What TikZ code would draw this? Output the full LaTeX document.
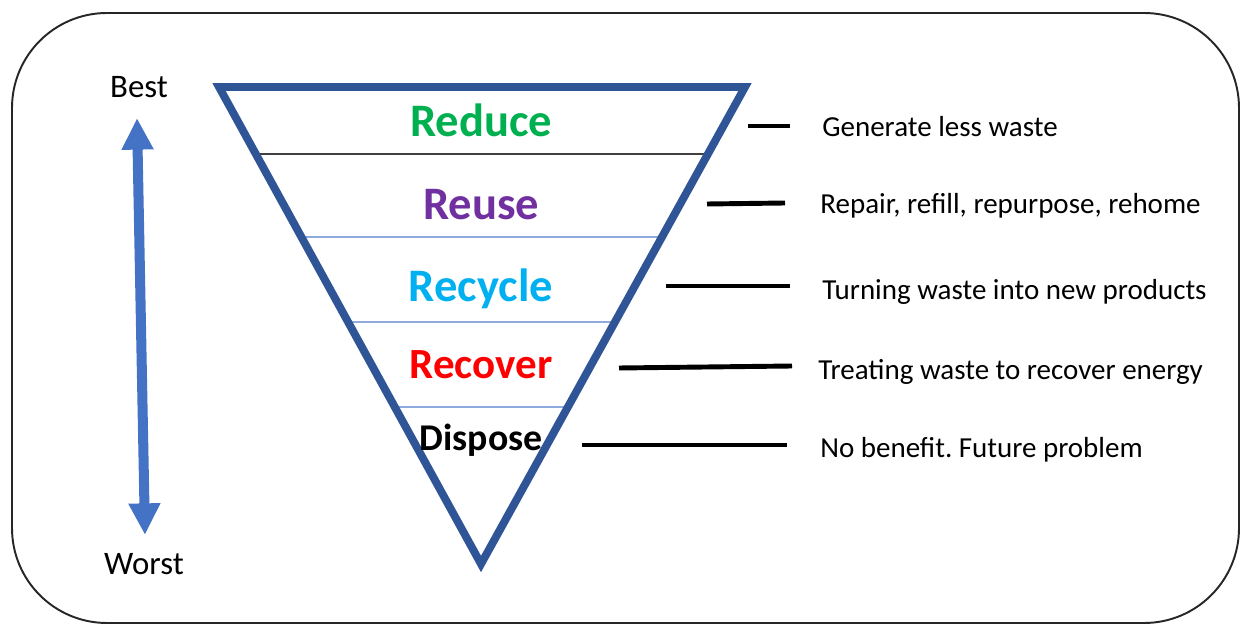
\documentclass[tikz,border=0pt]{standalone}
\usepackage{fontspec}
\setmainfont{Carlito}
\usetikzlibrary{arrows.meta, calc}
\frenchspacing

\definecolor{hierblue}{HTML}{2F5597}
\definecolor{arrowblue}{HTML}{4472C4}
\definecolor{lineblue}{HTML}{8FAADC}
\definecolor{reducegreen}{HTML}{00B050}
\definecolor{reusepurple}{HTML}{7030A0}
\definecolor{recyclecyan}{HTML}{00B0F0}
\definecolor{recoverred}{HTML}{FF0000}

\begin{document}
\begin{tikzpicture}[x=0.02cm, y=-0.02cm,
        level/.style={anchor=base, inner sep=0pt, font=\bfseries\fontsize{26.5}{30}\selectfont},
        desc/.style={anchor=base west, inner sep=0pt, font=\fontsize{16.5}{19}\selectfont},
        rank/.style={anchor=base, inner sep=0pt, font=\fontsize{18.7}{22}\selectfont},
        tick/.style={line width=2.8pt},
        divider/.style={line width=0.8pt, draw=lineblue}
    ]
        \useasboundingbox (0,0) rectangle (1241,624);

        % Frame
        \draw[line width=1.1pt, black!85, rounded corners=1.9cm] (12,13) rectangle (1239,623);

        % Triangle corners
        \coordinate (tl) at (219,87);
        \coordinate (tr) at (745,87);
        \coordinate (apex) at (481,564);

        % Dividers (ends run under the outline)
        \draw[divider, draw=black!75] ($(tl)!0.1405!(apex)$) -- ($(tr)!0.1405!(apex)$);
        \draw[divider] ($(tl)!0.3145!(apex)$) -- ($(tr)!0.3145!(apex)$);
        \draw[divider] ($(tl)!0.4927!(apex)$) -- ($(tr)!0.4927!(apex)$);
        \draw[divider] ($(tl)!0.6709!(apex)$) -- ($(tr)!0.6709!(apex)$);

        % Outline
        \draw[line width=4.5pt, hierblue, line join=miter] (tl) -- (tr) -- (apex) -- cycle;

        % Levels
        \node[level, text=reducegreen] (reduce) at (481,137) {Reduce};
        \node[level, text=reusepurple] (reuse) at (481,220) {Reuse};
        \node[level, text=recyclecyan] (recycle) at (481,302) {Recycle};
        \node[level, text=recoverred, font=\bfseries\fontsize{24.5}{28}\selectfont] (recover) at (481,379) {Recover};
        \node[level, font=\bfseries\fontsize{21.5}{25}\selectfont] (dispose) at (481,451) {Dispose};

        % Descriptions
        \node[desc] (d1) at (822,137) {Generate less waste};
        \node[desc] (d2) at (820,214) {Repair, refill, repurpose, rehome};
        \node[desc] (d3) at (822,300) {Turning waste into new products};
        \node[desc] (d4) at (818,380) {Treating waste to recover energy};
        \node[desc] (d5) at (820,458) {No benefit. Future problem};

        % Ticks
        \coordinate (t1a) at (748,126);
        \coordinate (t1b) at (790,126);
        \coordinate (t2a) at (707,204);
        \coordinate (t2b) at (785,203);
        \coordinate (t3a) at (666,286);
        \coordinate (t3b) at (790,286);
        \coordinate (t4a) at (619,368);
        \coordinate (t4b) at (792,366);
        \coordinate (t5a) at (582,445);
        \coordinate (t5b) at (787,445);
        \draw[tick] (t1a) -- (t1b);
        \draw[tick] (t2a) -- (t2b);
        \draw[tick] (t3a) -- (t3b);
        \draw[tick] (t4a) -- (t4b);
        \draw[tick] (t5a) -- (t5b);

        % Best / worst scale
        \node[rank] (best) at (139,98) {Best};
        \node[rank] (worst) at (144,575) {Worst};
        \coordinate (up) at (137,118);
        \coordinate (down) at (145,535);
        \draw[arrowblue, line width=5.7pt,
            {Triangle[length=18pt,width=17pt]}-{Triangle[length=18pt,width=17pt]}] (up) -- (down);

    \end{tikzpicture}
\end{document}
